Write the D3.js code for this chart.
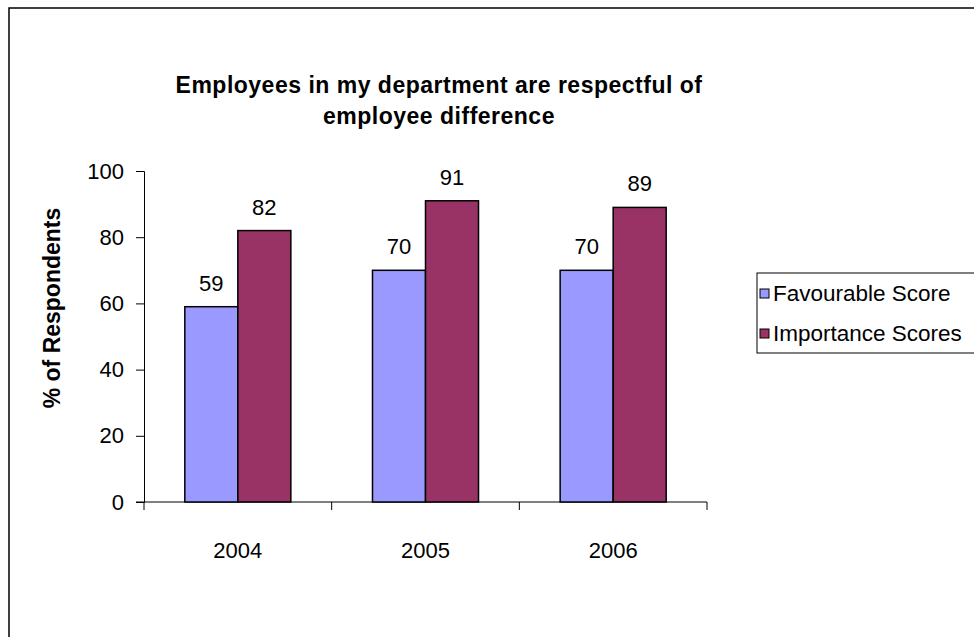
<!DOCTYPE html>
<html>
<head>
<meta charset="utf-8">
<script src="https://cdn.jsdelivr.net/npm/d3@7/dist/d3.min.js"></script>
<style>
  html, body { margin: 0; padding: 0; background: #fff; }
  svg { display: block; }
  text { font-family: "Liberation Sans", Arial, sans-serif; fill: #000; }
</style>
</head>
<body>
<svg id="chart" width="974" height="637"></svg>
<script>
const categories = ["2004", "2005", "2006"];
const seriesNames = ["Favourable Score", "Importance Scores"];
const favourable = [59, 70, 70];
const importance = [82, 91, 89];
const yTicks = [0, 20, 40, 60, 80, 100];
const titleLines = ["Employees in my department are respectful of", "employee difference"];
const yTitle = "% of Respondents";
const colors = ["#9999FF", "#993366"];

const svg = d3.select("#chart");

// outer chart border
svg.append("rect").attr("x", 9).attr("y", 8).attr("width", 1000).attr("height", 700)
  .attr("fill", "#fff").attr("stroke", "#000").attr("stroke-width", 1.5);

const plot = { left: 144, right: 707, top: 171, bottom: 502 };

const x0 = d3.scaleBand().domain(categories).range([plot.left, plot.right])
  .paddingInner(0.435).paddingOuter(0.2175);
const x1 = d3.scaleBand().domain(seriesNames).range([0, x0.bandwidth()]);
const y = d3.scaleLinear().domain([0, 100]).range([plot.bottom, plot.top]);

// title
const title = svg.append("text").attr("text-anchor", "middle")
  .attr("font-size", 23).attr("font-weight", "bold").style("letter-spacing", "0.5px");
titleLines.forEach((t, i) => {
  title.append("tspan").attr("x", 439).attr("y", 93 + i * 31).text(t);
});

// y axis
const yAxis = svg.append("g").attr("transform", `translate(${plot.left},0)`)
  .call(d3.axisLeft(y).tickValues(yTicks).tickSize(8).tickPadding(12));
yAxis.select(".domain").attr("stroke", "#000");
yAxis.selectAll(".tick line").attr("stroke", "#000");
yAxis.selectAll(".tick text").attr("font-size", 22).attr("font-family", "Liberation Sans, Arial, sans-serif");

// x axis
const xAxis = svg.append("g").attr("transform", `translate(0,${plot.bottom})`);
xAxis.append("line").attr("x1", plot.left - 8).attr("x2", plot.right)
  .attr("y1", 0).attr("y2", 0).attr("stroke", "#000");
const step = x0.step();
const boundaries = [plot.left].concat(categories.map((c, i) => plot.left + step * (i + 1)));
xAxis.selectAll("line.tk").data(boundaries).enter().append("line").attr("class", "tk")
  .attr("x1", d => d).attr("x2", d => d).attr("y1", 0).attr("y2", 8).attr("stroke", "#000");
xAxis.selectAll("text").data(categories).enter().append("text")
  .attr("x", d => x0(d) + x0.bandwidth() / 2).attr("y", 56)
  .attr("text-anchor", "middle").attr("font-size", 22).text(d => d);

// y title
svg.append("text").attr("transform", `translate(60,308) rotate(-90)`)
  .attr("text-anchor", "middle").attr("font-size", 23).attr("font-weight", "bold").text(yTitle);

// bars
const data = categories.map((c, i) => ({ cat: c, vals: [favourable[i], importance[i]] }));
const groups = svg.selectAll("g.grp").data(data).enter().append("g").attr("class", "grp")
  .attr("transform", d => `translate(${x0(d.cat)},0)`);
groups.selectAll("rect").data(d => d.vals.map((v, j) => ({ v, s: seriesNames[j], j })))
  .enter().append("rect")
  .attr("x", d => x1(d.s)).attr("width", x1.bandwidth())
  .attr("y", d => y(d.v)).attr("height", d => y(0) - y(d.v))
  .attr("fill", d => colors[d.j]).attr("stroke", "#000").attr("stroke-width", 1.5);
groups.selectAll("text").data(d => d.vals.map((v, j) => ({ v, s: seriesNames[j] })))
  .enter().append("text")
  .attr("x", d => x1(d.s) + x1.bandwidth() / 2).attr("y", d => y(d.v) - 16)
  .attr("text-anchor", "middle").attr("font-size", 22).text(d => d.v);

// legend
const lg = svg.append("g");
lg.append("rect").attr("x", 757).attr("y", 273).attr("width", 240).attr("height", 80)
  .attr("fill", "#fff").attr("stroke", "#000").attr("stroke-width", 1);
seriesNames.forEach((s, i) => {
  const yy = 293 + i * 40;
  lg.append("rect").attr("x", 760).attr("y", yy - 4).attr("width", 9).attr("height", 9)
    .attr("fill", colors[i]).attr("stroke", "#000").attr("stroke-width", 1);
  lg.append("text").attr("x", 773).attr("y", yy + 8).attr("font-size", 22.5).text(s);
});
</script>
</body>
</html>
